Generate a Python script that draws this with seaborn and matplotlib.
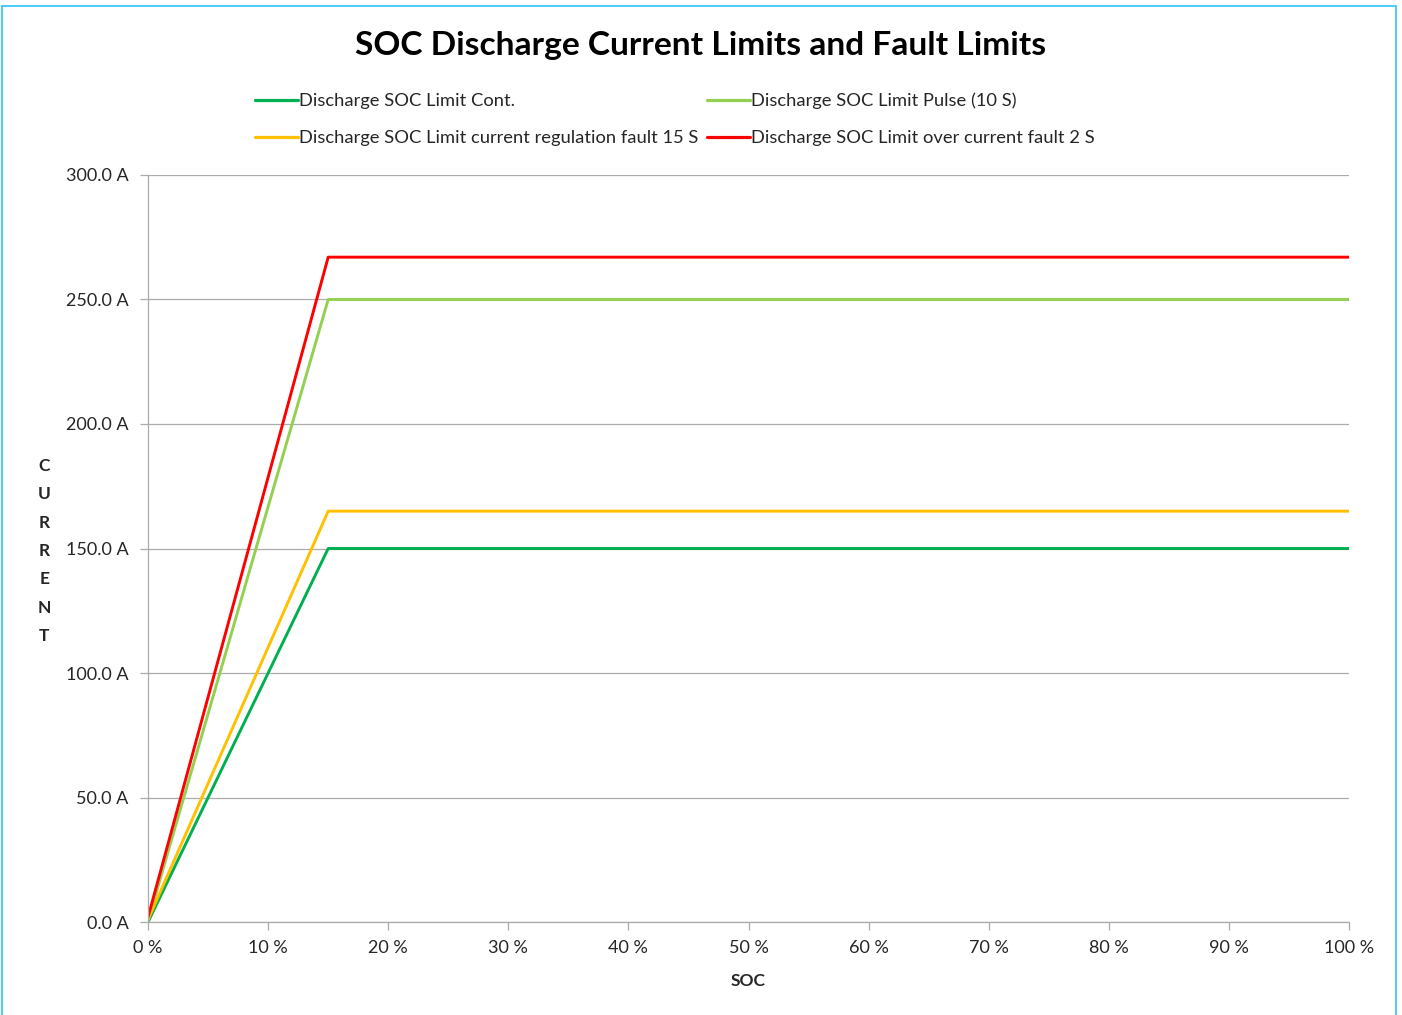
import numpy as np
import pandas as pd
import seaborn as sns
import matplotlib.pyplot as plt
from matplotlib.patches import Rectangle
from matplotlib.ticker import FuncFormatter, MultipleLocator

# SOC breakpoints (%) and current limits (A)
soc = [0, 15, 100]
cont = [0.0, 150.0, 150.0]
pulse = [0.5, 250.0, 250.0]
reg_fault = [1.0, 165.0, 165.0]
oc_fault = [2.0, 267.0, 267.0]

series_names = [
    "Discharge SOC Limit Cont.",
    "Discharge SOC Limit Pulse (10 S)",
    "Discharge SOC Limit current regulation fault 15 S",
    "Discharge SOC Limit over current fault 2 S",
]
series_values = [cont, pulse, reg_fault, oc_fault]
colors = ["#00B050", "#92D050", "#FFC000", "#FF0000"]

df = pd.concat(
    [pd.DataFrame({"SOC": soc, "Current": vals, "Series": name})
     for name, vals in zip(series_names, series_values)],
    ignore_index=True,
)

sns.set_theme(style="white")
plt.rcParams["font.family"] = ["Lato", "DejaVu Sans"]

fig = plt.figure(figsize=(14.02, 10.15), dpi=100)
ax = fig.add_axes([0.1056, 0.0916, 0.8566, 0.736])

sns.lineplot(
    data=df, x="SOC", y="Current", hue="Series",
    palette=dict(zip(series_names, colors)),
    linewidth=2.1, ax=ax, legend=False, sort=False,
)

ax.set_xlim(0, 100)
ax.set_ylim(0, 300)
ax.xaxis.set_major_locator(MultipleLocator(10))
ax.yaxis.set_major_locator(MultipleLocator(50))
ax.xaxis.set_major_formatter(FuncFormatter(lambda v, p: f"{v:.0f} %"))
ax.yaxis.set_major_formatter(FuncFormatter(lambda v, p: f"{v:.1f} A"))
ax.grid(axis="y", color="#ABABAB", linewidth=0.9)
ax.set_axisbelow(True)

for side in ["top", "right"]:
    ax.spines[side].set_visible(False)
for side in ["left", "bottom"]:
    ax.spines[side].set_color("#ABABAB")
    ax.spines[side].set_linewidth(0.9)

ax.tick_params(axis="both", which="major", length=6, width=0.9, color="#ABABAB",
               labelsize=13, labelcolor="#262626", direction="out",
               bottom=True, left=True)
ax.tick_params(axis="x", pad=7)
ax.tick_params(axis="y", pad=8)

ax.set_xlabel("SOC", fontsize=12.5, fontweight="bold", color="#262626", labelpad=12)
ax.set_ylabel("")
fig.text(0.0315, 0.457, "\n".join("CURRENT"), fontsize=12.5, fontweight="bold",
         color="#262626", ha="center", va="center", linespacing=1.95)

fig.text(0.5, 0.955, "SOC Discharge Current Limits and Fault Limits",
         fontsize=24.1, fontweight="bold", color="#000000", ha="center", va="center")

# legend: two columns, rows filled left to right
handles = [plt.Line2D([], [], color=c, linewidth=2.3) for c in colors]
order = [0, 2, 1, 3]
leg = fig.legend(
    [handles[i] for i in order], [series_names[i] for i in order],
    ncol=2, loc="upper left", bbox_to_anchor=(0.1769, 0.916),
    frameon=False, fontsize=13.2, handlelength=2.35, handletextpad=0.03,
    columnspacing=0.48, labelspacing=1.15, borderaxespad=0,
)
for t in leg.get_texts():
    t.set_color("#262626")

# outer chart border
fig.patches.append(Rectangle((2 / 1402, -0.05), 1394 / 1402, 1.05 - 6 / 1015,
                             transform=fig.transFigure, fill=False,
                             edgecolor="#2EC4F5", linewidth=1.2))

fig.savefig("out.png", dpi=100)
